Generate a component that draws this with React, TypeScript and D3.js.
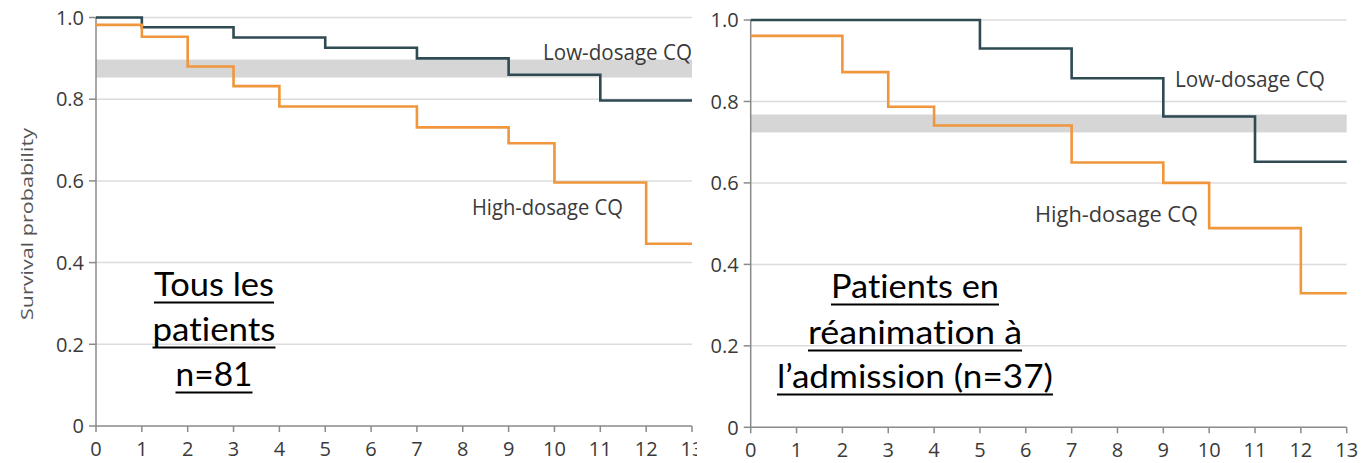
import React from "react";
import * as d3 from "d3";

const xTicks = [0, 1, 2, 3, 4, 5, 6, 7, 8, 9, 10, 11, 12, 13];
const yTicks = [0, 0.2, 0.4, 0.6, 0.8, 1.0];
const yTickLabels = ["0", "0.2", "0.4", "0.6", "0.8", "1.0"];

const leftLowTimes = [0, 1, 3, 5, 7, 9, 11, 13];
const leftLowSurv = [1.0, 0.976, 0.951, 0.926, 0.9, 0.86, 0.797, 0.797];
const leftHighTimes = [0, 1, 2, 3, 4, 7, 9, 10, 12, 13];
const leftHighSurv = [0.982, 0.953, 0.88, 0.832, 0.782, 0.731, 0.692, 0.596, 0.446, 0.446];
const leftBand = [0.853, 0.897];

const rightLowTimes = [0, 5, 7, 9, 11, 13];
const rightLowSurv = [1.0, 0.93, 0.857, 0.763, 0.652, 0.652];
const rightHighTimes = [0, 2, 3, 4, 7, 9, 10, 12, 13];
const rightHighSurv = [0.961, 0.872, 0.787, 0.741, 0.65, 0.6, 0.489, 0.329, 0.329];
const rightBand = [0.724, 0.768];

const seriesNames = ["Low-dosage CQ", "High-dosage CQ"];
const yAxisTitle = "Survival probability";
const leftNote = ["Tous les", "patients", "n=81"];
const rightNote = ["Patients en", "réanimation à", "l\u2019admission (n=37)"];

const LOW = "#2e4a52";
const HIGH = "#f0963c";
const GRID = "#dcdcdc";
const AXIS = "#8a8a8a";
const TEXT = "#3a3a3a";
const TICKFONT = "'Open Sans', sans-serif";

type PanelProps = {
  x0: number; x1: number; y0: number; y1: number;
  low: [number[], number[]]; high: [number[], number[]]; band: number[];
  lowLabel: { x: number; y: number; w: number };
  highLabel: { x: number; y: number; w: number };
  note: string[]; noteCx: number; noteY: number[]; noteW: number[];
  bgX?: number;
};

function Panel(p: PanelProps) {
  const x = d3.scaleLinear().domain([0, 13]).range([p.x0, p.x1]);
  const y = d3.scaleLinear().domain([0, 1]).range([p.y0, p.y1]);
  const line = d3
    .line<[number, number]>()
    .x((d) => x(d[0]))
    .y((d) => y(d[1]))
    .curve(d3.curveStepAfter);
  const lowPts = p.low[0].map((t, i) => [t, p.low[1][i]] as [number, number]);
  const highPts = p.high[0].map((t, i) => [t, p.high[1][i]] as [number, number]);
  return (
    <g>
      {p.bgX !== undefined && (
        <rect x={p.bgX} y={0} width={1363 - p.bgX} height={463} fill="#fff" />
      )}
      {yTicks.filter((v) => v > 0).map((v) => (
        <line key={"g" + v} x1={x(0)} x2={x(13)} y1={y(v)} y2={y(v)} stroke={GRID} strokeWidth={1.5} />
      ))}
      <rect x={x(0)} y={y(p.band[1])} width={x(13) - x(0)} height={y(p.band[0]) - y(p.band[1])} fill="#d6d6d6" />
      <line x1={x(0)} x2={x(0)} y1={y(0) + 0.75} y2={y(1)} stroke={AXIS} strokeWidth={1.5} />
      <line x1={x(0)} x2={x(13)} y1={y(0)} y2={y(0)} stroke={AXIS} strokeWidth={1.5} />
      {yTicks.map((v, i) => (
        <g key={"y" + v}>
          <line x1={x(0) - 7} x2={x(0)} y1={y(v)} y2={y(v)} stroke={AXIS} strokeWidth={1.5} />
          <text x={x(0) - 12} y={y(v)} dy="0.36em" textAnchor="end" fontFamily={TICKFONT} fontSize={20} fill={TEXT}>
            {yTickLabels[i]}
          </text>
        </g>
      ))}
      {xTicks.map((v) => (
        <g key={"x" + v}>
          <line x1={x(v)} x2={x(v)} y1={y(0)} y2={y(0) + 6} stroke={AXIS} strokeWidth={1.5} />
          <text x={x(v)} y={y(0) + 29.5} textAnchor="middle" fontFamily={TICKFONT} fontSize={20} fill={TEXT}>
            {v}
          </text>
        </g>
      ))}
      <path d={line(lowPts) || ""} fill="none" stroke={LOW} strokeWidth={2.6} />
      <path d={line(highPts) || ""} fill="none" stroke={HIGH} strokeWidth={2.6} />
      <text x={p.lowLabel.x} y={p.lowLabel.y} fontFamily={TICKFONT} fontSize={21.5} fill={TEXT}
        textLength={p.lowLabel.w} lengthAdjust="spacingAndGlyphs">{seriesNames[0]}</text>
      <text x={p.highLabel.x} y={p.highLabel.y} fontFamily={TICKFONT} fontSize={21.5} fill={TEXT}
        textLength={p.highLabel.w} lengthAdjust="spacingAndGlyphs">{seriesNames[1]}</text>
      {p.note.map((s, i) => (
        <g key={"n" + i}>
          <text x={p.noteCx} y={p.noteY[i]} textAnchor="middle" fontFamily="Lato, sans-serif" fontSize={32}
            fill="#000" textLength={p.noteW[i]} lengthAdjust="spacingAndGlyphs"
            style={{ fontVariantLigatures: "none" }}>{s}</text>
          <line x1={p.noteCx - p.noteW[i] / 2} x2={p.noteCx + p.noteW[i] / 2} y1={p.noteY[i] + 6.5}
            y2={p.noteY[i] + 6.5} stroke="#000" strokeWidth={2} />
        </g>
      ))}
    </g>
  );
}

export default function App() {
  return (
    <svg width={1363} height={463} style={{ position: "absolute", left: 0, top: 0, background: "#fff" }}>
      <rect x={0} y={0} width={1363} height={463} fill="#fff" />
      <Panel
        x0={96} x1={692} y0={426} y1={17.5}
        low={[leftLowTimes, leftLowSurv]} high={[leftHighTimes, leftHighSurv]} band={leftBand}
        lowLabel={{ x: 543, y: 60, w: 149 }} highLabel={{ x: 472, y: 215, w: 151 }}
        note={leftNote} noteCx={214} noteY={[296, 341, 386]} noteW={[120, 123, 77]}
      />
      <text transform="translate(33,224) rotate(-90)" textAnchor="middle" fontFamily={TICKFONT} fontSize={16.5}
        fill="#555" textLength={192} lengthAdjust="spacingAndGlyphs">{yAxisTitle}</text>
      <Panel
        x0={750.7} x1={1346.7} y0={427.3} y1={20}
        low={[rightLowTimes, rightLowSurv]} high={[rightHighTimes, rightHighSurv]} band={rightBand}
        lowLabel={{ x: 1175, y: 87, w: 150 }} highLabel={{ x: 1035, y: 222, w: 163 }}
        note={rightNote} noteCx={915} noteY={[298, 344, 388]} noteW={[168, 214, 276]}
        bgX={697}
      />
    </svg>
  );
}
